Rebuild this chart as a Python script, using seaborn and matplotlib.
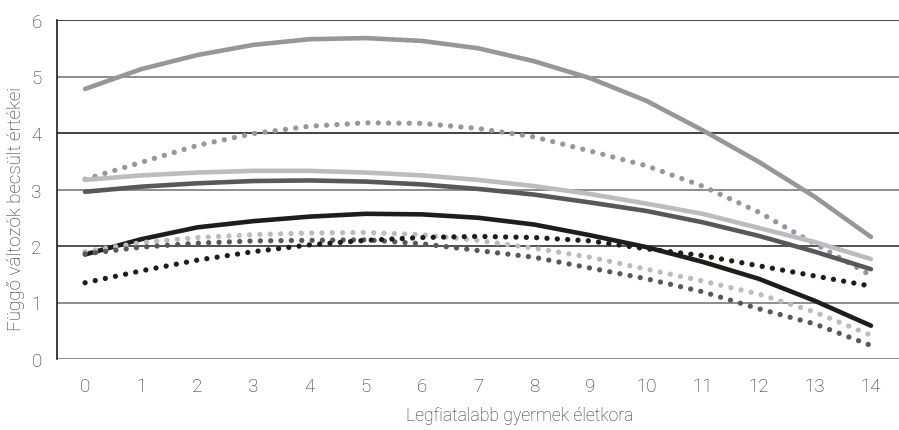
"""
Recreate the estimated-values-by-age-of-youngest-child line chart.
"""

import matplotlib.pyplot as plt
import seaborn as sns

ages = list(range(15))

solid_mid = [4.78, 5.13, 5.38, 5.56, 5.66, 5.68, 5.63, 5.50, 5.27, 4.97, 4.57, 4.05, 3.49, 2.87, 2.16]
dotted_mid = [3.18, 3.48, 3.78, 3.99, 4.12, 4.18, 4.17, 4.08, 3.93, 3.68, 3.42, 3.06, 2.60, 2.04, 1.48]
solid_light = [3.17, 3.25, 3.30, 3.33, 3.33, 3.30, 3.25, 3.17, 3.06, 2.92, 2.75, 2.57, 2.32, 2.07, 1.77]
solid_dark = [2.96, 3.05, 3.11, 3.15, 3.16, 3.14, 3.09, 3.01, 2.91, 2.77, 2.62, 2.42, 2.18, 1.90, 1.59]
solid_black = [1.85, 2.12, 2.33, 2.44, 2.52, 2.57, 2.56, 2.50, 2.38, 2.19, 1.98, 1.72, 1.42, 1.03, 0.59]
dotted_light = [1.90, 2.06, 2.15, 2.20, 2.23, 2.24, 2.20, 2.10, 1.96, 1.80, 1.59, 1.38, 1.15, 0.83, 0.42]
dotted_dark = [1.86, 1.98, 2.05, 2.09, 2.10, 2.11, 2.04, 1.92, 1.80, 1.61, 1.42, 1.19, 0.89, 0.62, 0.24]
dotted_black = [1.35, 1.56, 1.75, 1.90, 2.02, 2.10, 2.15, 2.17, 2.15, 2.09, 1.95, 1.83, 1.65, 1.47, 1.29]

series = [
    (solid_mid, "#97979b", "solid"),
    (dotted_mid, "#97979b", "dotted"),
    (solid_light, "#bcbcc0", "solid"),
    (solid_dark, "#58585b", "solid"),
    (solid_black, "#1d1d1b", "solid"),
    (dotted_light, "#bcbcc0", "dotted"),
    (dotted_dark, "#58585b", "dotted"),
    (dotted_black, "#1d1d1b", "dotted"),
]

y_ticks = [0, 1, 2, 3, 4, 5, 6]
grid_colors = ["#7a7a7a", "#7a7a7a", "#333333", "#7a7a7a", "#222222", "#7a7a7a", "#222222"]

TEXT_COLOR = "#2a2a2a"

sns.set_style("white")
plt.rcParams["font.family"] = ["Roboto", "DejaVu Sans"]

fig = plt.figure(figsize=(8.99, 4.31), dpi=100)
ax = fig.add_axes([57 / 899, 71 / 431, 842 / 899, 339 / 431])

for y_val, g_color in zip(y_ticks, grid_colors):
    ax.axhline(y_val, color=g_color, linewidth=1.2, zorder=1)

for values, color, style in series:
    if style == "solid":
        sns.lineplot(
            x=ages, y=values, ax=ax, color=color,
            linewidth=3.3, solid_capstyle="round", zorder=3,
        )
    else:
        sns.lineplot(
            x=ages, y=values, ax=ax, color=color,
            linewidth=3.8, linestyle=(0, (0.01, 1.95)),
            dash_capstyle="round", zorder=3,
        )

ax.set_xlim(-0.5, 14.5)
ax.set_ylim(0, 6)
ax.set_xticks(ages)
ax.set_yticks(y_ticks)
ax.tick_params(axis="both", length=0, labelsize=13.5, labelcolor=TEXT_COLOR)
ax.tick_params(axis="x", pad=13)
ax.tick_params(axis="y", pad=11)
for label in ax.get_xticklabels() + ax.get_yticklabels():
    label.set_fontweight("light")

for side in ["top", "right", "bottom"]:
    ax.spines[side].set_visible(False)
ax.spines["left"].set_color("#1d1d1b")
ax.spines["left"].set_linewidth(1.2)

ax.set_xlabel("Legfiatalabb gyermek életkora", fontsize=12.7,
              color=TEXT_COLOR, fontweight="light")
ax.set_ylabel("Függő változók becsült értékei", fontsize=13.5,
              color=TEXT_COLOR, fontweight="light")
ax.xaxis.set_label_coords(0.55, -0.139)
ax.yaxis.set_label_coords(-0.038, 0.445)

fig.savefig("out.png", dpi=100)
